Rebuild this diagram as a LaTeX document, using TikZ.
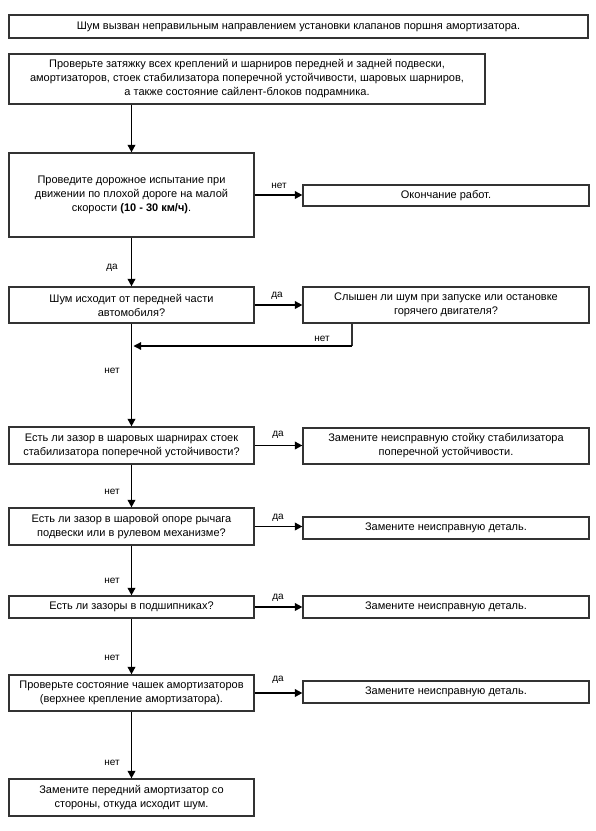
\documentclass[tikz,border=0pt]{standalone}
\usepackage{fontspec}
\setmainfont{Liberation Sans}
\usetikzlibrary{arrows.meta}
\begin{document}
\begin{tikzpicture}[x=1pt,y=-1pt,
  box/.style={draw=black!80, line width=1.2pt, align=center, inner sep=0pt,
    font=\fontsize{11}{14}\selectfont},
  lbox/.style={box, minimum width=245pt},
  rbox/.style={box, minimum width=286pt},
  arr/.style={line width=1.8pt, -{Triangle[length=7.5pt,width=7.5pt]}},
  lbl/.style={font=\fontsize{10}{12}\selectfont, inner sep=0pt}]
\useasboundingbox[fill=white] (0,0) rectangle (596,831);

\node[box, minimum width=579pt, minimum height=23pt] (b1) at (298.5,26.5)
  {Шум вызван неправильным направлением установки клапанов поршня амортизатора.};
\node[box, minimum width=476pt, minimum height=50pt] (b2) at (247,79)
  {Проверьте затяжку всех креплений и шарниров передней и задней подвески,\\
   амортизаторов, стоек стабилизатора поперечной устойчивости, шаровых шарниров,\\
   а также состояние сайлент-блоков подрамника.};
\node[lbox, minimum height=84pt] (b3) at (131.5,195)
  {Проведите дорожное испытание при\\ движении по плохой дороге на малой\\
   скорости \textbf{(10 - 30 км/ч)}.};
\node[rbox, minimum height=21pt] (b4) at (446,195.5) {Окончание работ.};
\node[lbox, minimum height=36pt] (b5) at (131.5,305)
  {Шум исходит от передней части\\ автомобиля?};
\node[rbox, minimum height=36pt] (b6) at (446,305)
  {Слышен ли шум при запуске или остановке\\ горячего двигателя?};
\node[lbox, minimum height=37pt] (b7) at (131.5,445.5)
  {Есть ли зазор в шаровых шарнирах стоек\\ стабилизатора поперечной устойчивости?};
\node[rbox, minimum height=36pt] (b8) at (446,446)
  {Замените неисправную стойку стабилизатора\\ поперечной устойчивости.};
\node[lbox, minimum height=37pt] (b9) at (131.5,526.5)
  {Есть ли зазор в шаровой опоре рычага\\ подвески или в рулевом механизме?};
\node[rbox, minimum height=22pt] (b10) at (446,528) {Замените неисправную деталь.};
\node[lbox, minimum height=22pt] (b11) at (131.5,607) {Есть ли зазоры в подшипниках?};
\node[rbox, minimum height=22pt] (b12) at (446,607) {Замените неисправную деталь.};
\node[lbox, minimum height=36pt] (b13) at (131.5,693)
  {Проверьте состояние чашек амортизаторов\\ (верхнее крепление амортизатора).};
\node[rbox, minimum height=22pt] (b14) at (446,692) {Замените неисправную деталь.};
\node[lbox, minimum height=37pt] (b15) at (131.5,797.5)
  {Замените передний амортизатор со\\ стороны, откуда исходит шум.};

% vertical flow
\draw[arr] (b3.north |- b2.south) -- (b3.north);
\draw[arr] (b3) -- (b5);
\draw[arr] (b5) -- (b7);
\draw[arr] (b7) -- (b9);
\draw[arr] (b9) -- (b11);
\draw[arr] (b11) -- (b13);
\draw[arr] (b13) -- (b15);

% horizontal flow
\draw[arr] (b3.east) -- (b3.east -| b4.west);
\draw[arr] (b5.east) -- (b5.east -| b6.west);
\draw[arr] (b7.east) -- (b7.east -| b8.west);
\draw[arr] (b9.east) -- (b9.east -| b10.west);
\draw[arr] (b11.east) -- (b11.east -| b12.west);
\draw[arr] (b13.east) -- (b13.east -| b14.west);

% feedback
\coordinate (fb) at (352,346);
\coordinate (fbend) at (133.5,346);
\draw[line width=1.2pt, draw=black!80] (fb |- b6.south) -- (fb);
\draw[arr, line width=1.2pt] (fb) -- (fbend);

% labels
\node[lbl] (l1) at (279,186) {нет};
\node[lbl] (l2) at (112,268) {да};
\node[lbl] (l3) at (277,296) {да};
\node[lbl] (l4) at (322,339) {нет};
\node[lbl] (l5) at (112,371) {нет};
\node[lbl] (l6) at (278,435) {да};
\node[lbl] (l7) at (112,492) {нет};
\node[lbl] (l8) at (278,518) {да};
\node[lbl] (l9) at (112,581) {нет};
\node[lbl] (l10) at (278,598) {да};
\node[lbl] (l11) at (112,658) {нет};
\node[lbl] (l12) at (278,680) {да};
\node[lbl] (l13) at (112,763) {нет};
\end{tikzpicture}
\end{document}
